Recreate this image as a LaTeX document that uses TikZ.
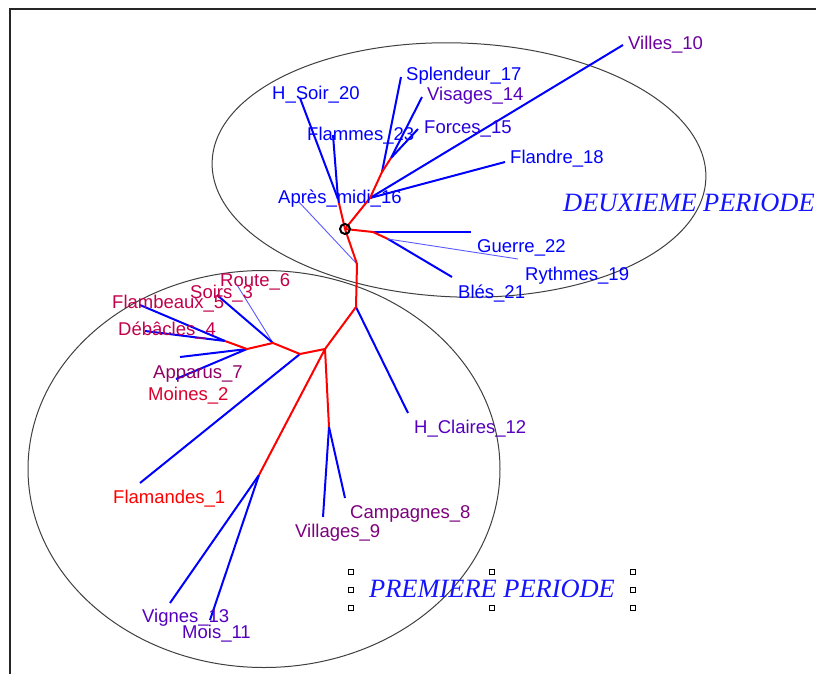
\documentclass[tikz,border=0pt]{standalone}
\usepackage{fontspec}
\setmainfont{Liberation Sans}
\newfontfamily\perfont{Liberation Serif}
\definecolor{cblue}{RGB}{0,0,255}
\definecolor{cthin}{RGB}{90,90,255}
\definecolor{cred}{RGB}{255,0,0}
\definecolor{cindA}{RGB}{40,0,220}
\definecolor{cindB}{RGB}{85,0,190}
\definecolor{cpurA}{RGB}{110,0,160}
\definecolor{cpurB}{RGB}{125,0,125}
\definecolor{cmag}{RGB}{145,0,100}
\definecolor{ccrim}{RGB}{195,0,75}
\definecolor{cmoin}{RGB}{220,0,45}
\definecolor{cper}{RGB}{20,20,255}
\tikzset{
  lab/.style={anchor=base west, inner sep=0pt, font=\fontsize{18.5}{20}\selectfont},
  per/.style={anchor=base west, inner sep=0pt, text=cper, font=\perfont\itshape\fontsize{26.4}{28}\selectfont},
  redline/.style={draw=cred, line width=2pt},
  blueline/.style={draw=cblue, line width=2pt},
  thinline/.style={draw=cthin, line width=0.9pt},
  ell/.style={draw=black!75, line width=1pt},
  handle/.style={draw=black, line width=0.8pt, fill=white}
}
\begin{document}
\begin{tikzpicture}[x=1pt,y=-1pt]
\useasboundingbox (0,0) rectangle (816,674);
\fill[white] (0,0) rectangle (816,674);
% frame
\draw[black!85, line width=2pt] (816,9.5) -- (9.5,9.5) -- (9.5,674);
% ellipses
\draw[ell] (459,170) ellipse [x radius=247pt, y radius=127pt, rotate=-2];
\draw[ell] (264,469) ellipse [x radius=236pt, y radius=198.5pt];
% tree coordinates
\coordinate (R) at (345,229);
\coordinate (u1) at (373,232);
\coordinate (u2) at (388,239);
\coordinate (u3) at (370,198);
\coordinate (u4) at (382,172);
\coordinate (u5) at (391,158);
\coordinate (u6) at (338,199);
\coordinate (u7) at (357,264);
\coordinate (A) at (356,307);
\coordinate (B) at (325,349);
\coordinate (C) at (329,427);
\coordinate (D) at (259,475);
\coordinate (E) at (300,354);
\coordinate (F) at (273,343);
\coordinate (G) at (247,349);
\coordinate (H) at (225,341);
% leaves
\coordinate (lguerre) at (471,232);
\coordinate (lbles) at (452,277);
\coordinate (lrythmes) at (518,259);
\coordinate (lflandre) at (505,162);
\coordinate (lvilles) at (623,45);
\coordinate (lsplendeur) at (401,77);
\coordinate (lvisages) at (422,97);
\coordinate (lforces) at (418,129);
\coordinate (lhsoir) at (300,98);
\coordinate (lflammes) at (333,135);
\coordinate (lapres) at (298,201);
\coordinate (lhclaires) at (408,413);
\coordinate (lvillages) at (323,517);
\coordinate (lcampagnes) at (345,498);
\coordinate (lvignes) at (170,603);
\coordinate (lmois) at (210,620);
\coordinate (lflamandes) at (140,483);
\coordinate (lroute) at (237,285);
\coordinate (lsoirs) at (217,295);
\coordinate (lapparus) at (180,357);
\coordinate (lmoines) at (176,379);
\coordinate (lflambeaux) at (140,305);
\coordinate (ldebacles) at (145,331);
% blue leaf edges
\draw[blueline] (u1) -- (lguerre);
\draw[blueline] (u2) -- (lbles);
\draw[thinline] (u2) -- (lrythmes);
\draw[blueline] (u3) -- (lflandre);
\draw[blueline] (u3) -- (lvilles);
\draw[blueline] (u4) -- (lsplendeur);
\draw[blueline] (u5) -- (lvisages);
\draw[blueline] (u5) -- (lforces);
\draw[blueline] (u6) -- (lhsoir);
\draw[blueline] (u6) -- (lflammes);
\draw[thinline] (u7) -- (lapres);
\draw[blueline] (A) -- (lhclaires);
\draw[blueline] (C) -- (lvillages);
\draw[blueline] (C) -- (lcampagnes);
\draw[blueline] (D) -- (lvignes);
\draw[blueline] (D) -- (lmois);
\draw[blueline] (E) -- (lflamandes);
\draw[thinline] (F) -- (lroute);
\draw[blueline] (F) -- (lsoirs);
\draw[blueline] (G) -- (lapparus);
\draw[blueline] (G) -- (lmoines);
\draw[blueline] (H) -- (lflambeaux);
\draw[blueline] (H) -- (ldebacles);
% red internal edges
\draw[redline] (R) -- (u1) -- (u2);
\draw[redline] (R) -- (u3) -- (u4) -- (u5);
\draw[redline] (R) -- (u6);
\draw[redline] (R) -- (u7) -- (A) -- (B);
\draw[redline] (B) -- (C);
\draw[redline] (B) -- (D);
\draw[redline] (B) -- (E) -- (F) -- (G) -- (H);
% root marker
\node[draw=black, line width=2pt, circle, minimum size=10pt, inner sep=0pt] (root) at (R) {};
% labels
\node[lab, text=cpurA] (tvilles) at (628,50) {Villes\_10};
\node[lab, text=cblue] (tsplendeur) at (406,81) {Splendeur\_17};
\node[lab, text=cindB] (tvisages) at (427,101) {Visages\_14};
\node[lab, text=cblue] (thsoir) at (272,100) {H\_Soir\_20};
\node[lab, text=cindA] (tforces) at (424,133) {Forces\_15};
\node[lab, text=cblue] (tflammes) at (307,140) {Flammes\_23};
\node[lab, text=cblue] (tflandre) at (510,164) {Flandre\_18};
\node[lab, text=cblue] (tapres) at (278,203) {Après\_midi\_16};
\node[lab, text=cblue] (tguerre) at (477,252) {Guerre\_22};
\node[lab, text=cblue] (trythmes) at (525,280) {Rythmes\_19};
\node[lab, text=cblue] (tbles) at (458,298) {Blés\_21};
\node[lab, text=ccrim] (troute) at (220,286) {Route\_6};
\node[lab, text=ccrim] (tsoirs) at (190,298) {Soirs\_3};
\node[lab, text=ccrim] (tflambeaux) at (112,308) {Flambeaux\_5};
\node[lab, text=ccrim] (tdebacles) at (118,335) {Débâcles\_4};
\node[lab, text=cmag] (tapparus) at (153,378) {Apparus\_7};
\node[lab, text=cmoin] (tmoines) at (148,400) {Moines\_2};
\node[lab, text=cindB] (thclaires) at (414,433) {H\_Claires\_12};
\node[lab, text=cred] (tflamandes) at (113,503) {Flamandes\_1};
\node[lab, text=cpurB] (tcampagnes) at (350,518) {Campagnes\_8};
\node[lab, text=cpurB] (tvillages) at (295,537) {Villages\_9};
\node[lab, text=cindB] (tvignes) at (142,622) {Vignes\_13};
\node[lab, text=cindB] (tmois) at (182,638) {Mois\_11};
% period titles
\node[per] (tdeux) at (563,211) {DEUXIEME PERIODE};
\node[per] (tprem) at (369,597) {PREMIERE PERIODE};
% selection handles
\foreach \hx/\hy in {351/572,492/572,633/572,351/590,633/590,351/608,492/608,633/608}{
  \draw[handle] (\hx-2.3,\hy-2.3) rectangle (\hx+2.3,\hy+2.3);
}
\end{tikzpicture}
\end{document}
